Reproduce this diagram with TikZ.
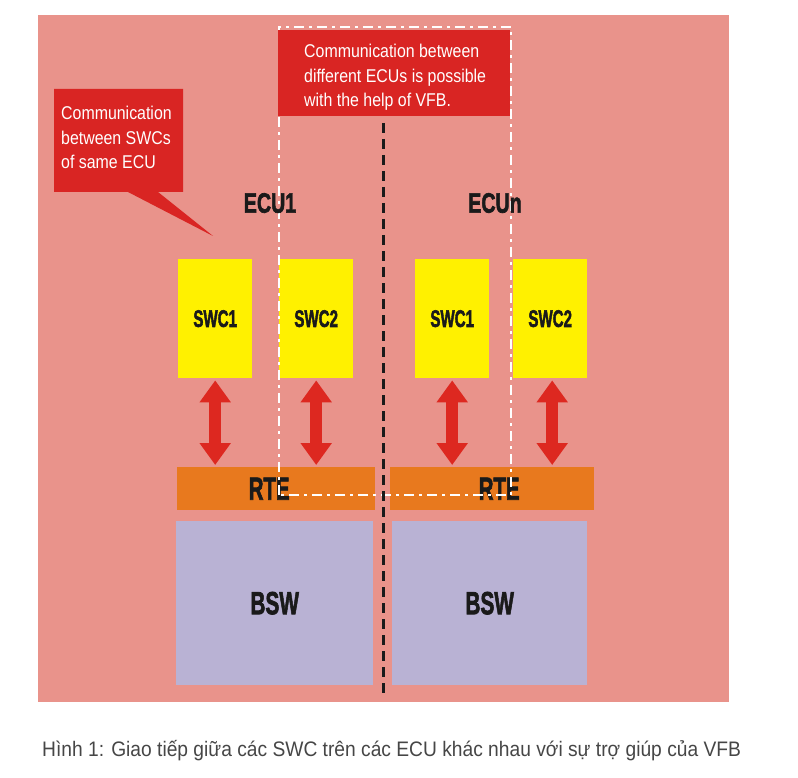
\documentclass[tikz,border=0pt]{standalone}
\usepackage{fontspec}
\usepackage{graphicx}
\setmainfont{Liberation Sans}
\newfontfamily\notefont{Liberation Sans}[FakeStretch=0.86]
\newfontfamily\capfont{Liberation Sans}[FakeStretch=0.915]
\newfontfamily\heavyfont{Liberation Sans Bold}[FakeBold=2.4]
\usetikzlibrary{arrows.meta}
\definecolor{bgpink}{RGB}{233,147,139}
\definecolor{notered}{RGB}{217,37,35}
\definecolor{arrowred}{RGB}{221,40,32}
\definecolor{swcyellow}{RGB}{255,241,0}
\definecolor{rteorange}{RGB}{232,121,30}
\definecolor{bswlav}{RGB}{185,178,212}
\definecolor{lbl}{RGB}{26,26,26}
\definecolor{capgray}{RGB}{70,70,70}
\newcommand{\condlbl}[3]{\scalebox{#2}[1]{\heavyfont\fontsize{#1}{#1}\selectfont #3}}
\tikzset{
  swcbox/.style={fill=swcyellow, minimum width=74pt, minimum height=119pt, inner sep=0pt, anchor=north west, text=lbl},
  rtebar/.style={fill=rteorange, minimum height=43pt, inner sep=0pt, anchor=north west, text=lbl},
  bswbox/.style={fill=bswlav, minimum height=164pt, inner sep=0pt, anchor=north west, text=lbl},
  dblarrow/.style={draw=arrowred, line width=12pt, shorten <=2pt, shorten >=2pt,
     {Triangle[width=30pt,length=22pt]}-{Triangle[width=30pt,length=22pt]}},
  vfbline/.style={draw=white, line width=1.8pt, dash pattern=on 10pt off 5pt on 3pt off 5pt},
  eculine/.style={draw=lbl, line width=3pt, dash pattern=on 10pt off 6pt},
  notetext/.style={anchor=north west, inner sep=0pt, align=left, text=white, font=\notefont\fontsize{18.5}{24.5}\selectfont},
}
\begin{document}
\begin{tikzpicture}[x=1pt,y=-1pt]
\useasboundingbox (0,0) rectangle (798,778);
\fill[bgpink] (38,15) rectangle (729,702);

% boxes
\node[swcbox] (s11) at (178,259) {\raisebox{-3pt}{\condlbl{24}{0.63}{SWC1}}};
\node[swcbox] (s12) at (279,259) {\raisebox{-3pt}{\condlbl{24}{0.63}{SWC2}}};
\node[swcbox] (sn1) at (415,259) {\raisebox{-3pt}{\condlbl{24}{0.63}{SWC1}}};
\node[swcbox] (sn2) at (513,259) {\raisebox{-3pt}{\condlbl{24}{0.63}{SWC2}}};

\node[rtebar, minimum width=198pt] (rte1) at (177,467) {\hspace*{-14pt}\condlbl{32}{0.64}{RTE}};
\node[rtebar, minimum width=204pt] (rten) at (390,467) {\hspace*{14pt}\condlbl{32}{0.64}{RTE}};

\node[bswbox, minimum width=197pt] (bsw1) at (176,521) {\raisebox{-3pt}{\condlbl{32}{0.65}{BSW}}};
\node[bswbox, minimum width=195pt] (bswn) at (392,521) {\raisebox{-3pt}{\condlbl{32}{0.65}{BSW}}};

% arrows
\draw[dblarrow] (s11.south) -- (s11.south |- rte1.north);
\draw[dblarrow] (s12.south) -- (s12.south |- rte1.north);
\draw[dblarrow] (sn1.south) -- (sn1.south |- rten.north);
\draw[dblarrow] ([xshift=2pt]sn2.south) -- ([xshift=2pt]sn2.south |- rten.north);

% VFB region
\coordinate (v1t) at (279,27);
\coordinate (v2t) at (511,27);
\coordinate (v1b) at (279,495);
\coordinate (v2b) at (511,495);
\draw[vfbline] (v1b) -- (v1t) -- (v2t) -- (v2b) -- (v1b);

% top note
\node[fill=notered, minimum width=232pt, minimum height=86pt, inner sep=0pt, anchor=north west] (vfbnote) at (278,30) {};
\node[notetext] (vfbtext) at (304,44) {Communication between\\different ECUs is possible\\with the help of VFB.};

% left callout
\fill[notered] (54,89) -- (183,89) -- (183,192) -- (158,192) -- (213,236) -- (128,192) -- (54,192) -- cycle;
\node[notetext] (swctext) at (61,106) {Communication\\between SWCs\\of same ECU};

% ECU separator
\coordinate (sept) at (383,123);
\coordinate (sepb) at (383,697);
\draw[eculine] (sept) -- (sepb);

% ECU labels
\node[text=lbl, inner sep=0pt] (ecu1) at (270,203) {\condlbl{28}{0.70}{ECU1}};
\node[text=lbl, inner sep=0pt] (ecun) at (495,203) {\condlbl{28}{0.70}{ECUn}};

% caption
\node[anchor=west, inner sep=0pt, text=capgray, font=\capfont\fontsize{21}{24}\selectfont] (caption) at (42,751)
  {Hình 1: Giao tiếp giữa các SWC trên các ECU khác nhau với sự trợ giúp của VFB};
\end{tikzpicture}
\end{document}
